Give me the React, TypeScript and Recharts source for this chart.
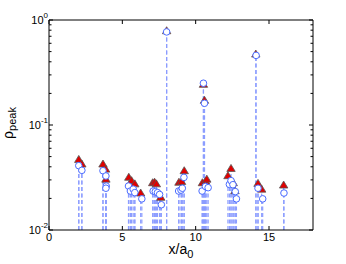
import { ScatterChart, Scatter, XAxis, YAxis, ReferenceLine } from 'recharts';

// red filled triangles
const triangles = [
  { x: 2.03, y: 0.047 }, { x: 2.24, y: 0.0425 },
  { x: 3.68, y: 0.0425 }, { x: 3.86, y: 0.038 }, { x: 3.88, y: 0.0305 },
  { x: 5.44, y: 0.0318 }, { x: 5.63, y: 0.0295 }, { x: 5.85, y: 0.0275 }, { x: 6.25, y: 0.0225 },
  { x: 7.07, y: 0.0282 }, { x: 7.2, y: 0.0285 }, { x: 7.32, y: 0.0275 }, { x: 7.62, y: 0.0205 },
  { x: 8.02, y: 0.79 },
  { x: 8.86, y: 0.0285 }, { x: 9.04, y: 0.029 }, { x: 9.22, y: 0.0367 },
  { x: 10.46, y: 0.0282 }, { x: 10.53, y: 0.244 }, { x: 10.6, y: 0.172 }, { x: 10.68, y: 0.0292 }, { x: 10.76, y: 0.0305 },
  { x: 12.2, y: 0.0329 }, { x: 12.41, y: 0.0386 }, { x: 12.56, y: 0.0282 }, { x: 12.68, y: 0.0237 },
  { x: 14.1, y: 0.474 }, { x: 14.25, y: 0.0278 }, { x: 14.5, y: 0.0245 },
  { x: 16.0, y: 0.0268 },
];

// blue open circles
const circles = [
  { x: 2.03, y: 0.041 }, { x: 2.24, y: 0.037 },
  { x: 3.68, y: 0.0367 }, { x: 3.88, y: 0.0327 }, { x: 3.9, y: 0.0262 }, { x: 3.88, y: 0.025 },
  { x: 5.42, y: 0.0262 }, { x: 5.55, y: 0.0235 }, { x: 5.74, y: 0.0245 }, { x: 5.85, y: 0.0227 }, { x: 6.33, y: 0.0198 },
  { x: 7.1, y: 0.0235 }, { x: 7.25, y: 0.0232 }, { x: 7.4, y: 0.0227 }, { x: 7.54, y: 0.0218 }, { x: 7.66, y: 0.0174 },
  { x: 8.02, y: 0.77 },
  { x: 8.84, y: 0.0235 }, { x: 9.0, y: 0.024 }, { x: 9.09, y: 0.025 }, { x: 9.2, y: 0.0317 },
  { x: 10.44, y: 0.0235 }, { x: 10.53, y: 0.25 }, { x: 10.6, y: 0.161 }, { x: 10.67, y: 0.026 }, { x: 10.85, y: 0.0253 },
  { x: 12.3, y: 0.0272 }, { x: 12.41, y: 0.0295 }, { x: 12.54, y: 0.027 }, { x: 12.7, y: 0.0232 }, { x: 12.78, y: 0.0198 },
  { x: 14.12, y: 0.46 }, { x: 14.25, y: 0.025 }, { x: 14.57, y: 0.0198 },
  { x: 16.02, y: 0.0225 },
];

const xTicks = [0, 5, 10, 15];
const yTicks = [
  0.01, 0.02, 0.03, 0.04, 0.05, 0.06, 0.07, 0.08, 0.09,
  0.1, 0.2, 0.3, 0.4, 0.5, 0.6, 0.7, 0.8, 0.9, 1,
];
const decades = [0.01, 0.1, 1];
const exponents = ['-2', '-1', '0'];

const FONT = 'Liberation Sans, Arial, sans-serif';
const STEM = '#8c9dff';

function BottomTick({ x, y, payload }: any) {
  return (
    <g>
      <line x1={x} x2={x} y1={y} y2={y - 4} stroke="#000" />
      <text x={x} y={y + 11} textAnchor="middle" fontSize={11} fontFamily={FONT} fill="#000">
        {payload.value}
      </text>
    </g>
  );
}

function TopTick({ x, y }: any) {
  return <line x1={x} x2={x} y1={y} y2={y + 4} stroke="#000" />;
}

function LeftTick({ x, y, payload }: any) {
  const i = decades.indexOf(payload.value);
  const len = i >= 0 ? 4 : 2.5;
  return (
    <g>
      <line x1={x} x2={x + len} y1={y} y2={y} stroke="#000" />
      {i >= 0 && (
        <text x={x - 1} y={y + 4} textAnchor="end" fontSize={11} fontFamily={FONT} fill="#000">
          10
          <tspan dy={-6} fontSize={8}>
            {exponents[i]}
          </tspan>
        </text>
      )}
    </g>
  );
}

function RightTick({ x, y, payload }: any) {
  const len = decades.indexOf(payload.value) >= 0 ? 4 : 2.5;
  return <line x1={x} x2={x - len} y1={y} y2={y} stroke="#000" />;
}

function YTitle({ viewBox }: any) {
  const cy = viewBox ? viewBox.y + viewBox.height / 2 - 2 : 123;
  return (
    <text
      x={13}
      y={cy}
      transform={`rotate(-90, 13, ${cy})`}
      textAnchor="middle"
      fontFamily={FONT}
      fontSize={14}
      fill="#000"
    >
      ρ
      <tspan dy={3} fontSize={11}>
        peak
      </tspan>
    </text>
  );
}

function XTitle({ viewBox }: any) {
  const cx = viewBox ? viewBox.x + viewBox.width / 2 : 181;
  return (
    <text x={cx} y={254} textAnchor="middle" fontFamily={FONT} fontSize={14} fill="#000">
      x/a
      <tspan dy={4} fontSize={11}>
        0
      </tspan>
    </text>
  );
}

function Triangle({ cx, cy }: any) {
  return (
    <polygon
      points={`${cx},${cy - 4} ${cx - 4.2},${cy + 3} ${cx + 4.2},${cy + 3}`}
      fill="#e00000"
      stroke="#555"
      strokeWidth={0.8}
    />
  );
}

function Circle({ cx, cy }: any) {
  return <circle cx={cx} cy={cy} r={3.3} fill="#fff" stroke="#4a6bff" strokeWidth={1} />;
}

export default function App() {
  const stems = [...triangles, ...circles];
  return (
    <div style={{ position: 'absolute', left: 0, top: 0, width: 346, height: 264, background: '#fff' }}>
      <ScatterChart width={346} height={264} margin={{ top: 0, right: 0, bottom: 0, left: 0 }}>
        <XAxis
          dataKey="x"
          type="number"
          domain={[0, 18]}
          ticks={xTicks}
          allowDataOverflow
          height={34}
          tickSize={0}
          tickMargin={0}
          tickLine={false}
          tick={<BottomTick />}
          axisLine={{ stroke: '#000' }}
          label={{ content: XTitle }}
        />
        <XAxis
          xAxisId="top"
          orientation="top"
          dataKey="x"
          type="number"
          domain={[0, 18]}
          ticks={xTicks}
          allowDataOverflow
          height={20}
          tickSize={0}
          tickMargin={0}
          tickLine={false}
          tick={<TopTick />}
          axisLine={{ stroke: '#000' }}
        />
        <YAxis
          dataKey="y"
          type="number"
          scale="log"
          domain={[0.01, 1]}
          ticks={yTicks}
          interval={0}
          allowDataOverflow
          width={49}
          tickSize={0}
          tickMargin={0}
          tickLine={false}
          tick={<LeftTick />}
          axisLine={{ stroke: '#000' }}
          label={{ content: YTitle }}
        />
        <YAxis
          yAxisId="right"
          orientation="right"
          dataKey="y"
          type="number"
          scale="log"
          domain={[0.01, 1]}
          ticks={yTicks}
          interval={0}
          allowDataOverflow
          width={33}
          tickSize={0}
          tickMargin={0}
          tickLine={false}
          tick={<RightTick />}
          axisLine={{ stroke: '#000' }}
        />
        {stems.map((p, i) => (
          <ReferenceLine
            key={i}
            segment={[
              { x: p.x, y: 0.01 },
              { x: p.x, y: p.y },
            ]}
            stroke={STEM}
            strokeWidth={1.2}
            strokeDasharray="4 2.5"
          />
        ))}
        <Scatter data={triangles} shape={<Triangle />} isAnimationActive={false} />
        <Scatter data={circles} shape={<Circle />} isAnimationActive={false} />
        <Scatter
          data={circles}
          xAxisId="top"
          yAxisId="right"
          shape={() => <g />}
          isAnimationActive={false}
        />
      </ScatterChart>
    </div>
  );
}
